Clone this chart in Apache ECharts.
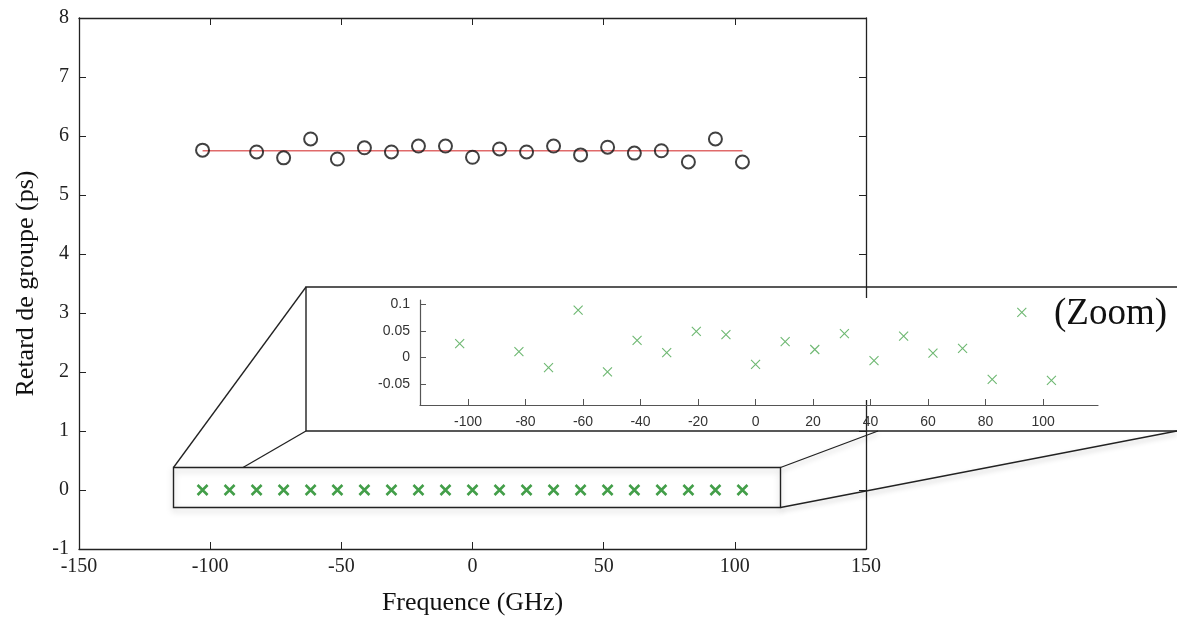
<!DOCTYPE html>
<html>
<head>
<meta charset="utf-8">
<script src="https://cdn.jsdelivr.net/npm/echarts@6/dist/echarts.min.js"></script>
<style>
html,body{margin:0;padding:0;background:#fff;}
#chart{width:1177px;height:623px;}
</style>
</head>
<body>
<div id="chart"></div>
<script>
// ---- data ----
const freqMeas = [-102.9,-82.3,-72.0,-61.7,-51.5,-41.2,-30.9,-20.6,-10.3,0,10.3,20.6,30.9,41.2,51.5,61.7,72.0,82.3,92.6,102.9];
const delayMeas = [5.76,5.73,5.63,5.95,5.61,5.80,5.73,5.83,5.83,5.64,5.78,5.73,5.83,5.68,5.81,5.71,5.75,5.56,5.95,5.56];
const fitFreq = [-102.9, 102.9];
const fitDelay = [5.75, 5.75];
const freqResid = [-102.9,-92.6,-82.3,-72.0,-61.7,-51.5,-41.2,-30.9,-20.6,-10.3,0,10.3,20.6,30.9,41.2,51.5,61.7,72.0,82.3,92.6,102.9];
const residMain = [0,0,0,0,0,0,0,0,0,0,0,0,0,0,0,0,0,0,0,0,0];
const residZoom = [0.026,0.011,-0.019,0.089,-0.027,0.032,0.009,0.049,0.043,-0.013,0.030,0.015,0.045,-0.006,0.040,0.008,0.017,-0.041,0.085,-0.043];
const zoomXTicks = [-100,-80,-60,-40,-20,0,20,40,60,80,100];
const zoomYTicks = [-0.05,0,0.05,0.1];
const xTitle = 'Frequence (GHz)';
const yTitle = 'Retard de groupe (ps)';
const zoomText = '(Zoom)';

// ---- chart ----
const chart = echarts.init(document.getElementById('chart'), null, {renderer:'canvas'});
const serif = 'Liberation Serif';
const sans = 'Liberation Sans';
const X_MARK = 'path://M0,0L10,10M10,0L0,10';

const mainAxisCommon = {
  axisLine:{show:true, onZero:false, lineStyle:{color:'#222', width:1.3}},
  axisTick:{show:true, inside:true, length:7, lineStyle:{color:'#222'}},
  splitLine:{show:false}
};

const option = {
  animation:false,
  backgroundColor:'#fff',
  grid:[
    {left:79, right:311, top:18, bottom:74},
    {left:420, right:79, top:300, bottom:218, z:30}
  ],
  xAxis:[
    Object.assign({type:'value', gridIndex:0, position:'bottom', min:-150, max:150, interval:50,
      name:xTitle, nameLocation:'middle', nameGap:41,
      nameTextStyle:{fontFamily:serif, fontSize:26, color:'#111'},
      axisLabel:{fontFamily:serif, fontSize:20, color:'#222', margin:8}}, mainAxisCommon),
    Object.assign({type:'value', gridIndex:0, position:'top', min:-150, max:150, interval:50,
      axisLabel:{show:false}}, mainAxisCommon),
    {type:'value', gridIndex:1, position:'bottom', min:-116.7, max:119.1, z:30,
      axisLine:{show:true, onZero:false, lineStyle:{color:'#555', width:1.2}},
      axisTick:{show:true, inside:true, length:6, customValues:zoomXTicks, lineStyle:{color:'#555'}},
      axisLabel:{fontFamily:sans, fontSize:14, color:'#333', margin:10, customValues:zoomXTicks},
      splitLine:{show:false}}
  ],
  yAxis:[
    Object.assign({type:'value', gridIndex:0, position:'left', min:-1, max:8, interval:1,
      name:yTitle, nameLocation:'middle', nameGap:40, nameRotate:90,
      nameTextStyle:{fontFamily:serif, fontSize:26, color:'#111'},
      axisLabel:{fontFamily:serif, fontSize:20, color:'#222', margin:10}}, mainAxisCommon),
    Object.assign({type:'value', gridIndex:0, position:'right', min:-1, max:8, interval:1,
      axisLabel:{show:false}}, mainAxisCommon),
    {type:'value', gridIndex:1, position:'left', min:-0.0894, max:0.1081, z:30,
      axisLine:{show:true, onZero:false, lineStyle:{color:'#555', width:1.2}},
      axisTick:{show:true, inside:true, length:6, customValues:zoomYTicks, lineStyle:{color:'#555'}},
      axisLabel:{fontFamily:sans, fontSize:14, color:'#333', margin:10, customValues:zoomYTicks},
      splitLine:{show:false}}
  ],
  series:[
    {type:'line', xAxisIndex:0, yAxisIndex:0, data:fitFreq.map((f,i)=>[f,fitDelay[i]]),
      showSymbol:false, lineStyle:{color:'#e06a6a', width:1.6}, z:2},
    {type:'scatter', xAxisIndex:0, yAxisIndex:0, data:freqMeas.map((f,i)=>[f,delayMeas[i]]),
      symbol:'circle', symbolSize:13,
      itemStyle:{color:'rgba(255,255,255,0)', borderColor:'#111', borderWidth:2}, z:3},
    {type:'scatter', xAxisIndex:0, yAxisIndex:0, data:freqResid.map((f,i)=>[f,residMain[i]]),
      symbol:X_MARK, symbolSize:10,
      itemStyle:{color:'rgba(0,0,0,0)', borderColor:'#14861c', borderWidth:2.6}, z:12},
    {type:'scatter', xAxisIndex:2, yAxisIndex:2, data:freqMeas.map((f,i)=>[f,residZoom[i]]),
      symbol:X_MARK, symbolSize:9,
      itemStyle:{color:'rgba(0,0,0,0)', borderColor:'#4aa64f', borderWidth:1.1}, z:31}
  ],
  graphic:[
    {type:'rect', silent:true, z:20, shape:{x:306, y:298, width:880, height:102}, style:{fill:'#fff'}},
    {type:'polyline', silent:true, z:21, shape:{points:[[1190,287],[306,287],[306,431],[1190,431]]},
      style:{stroke:'#222', lineWidth:1.4, fill:null}},
    {type:'rect', silent:true, z:11, shape:{x:173.5, y:467.5, width:607, height:40},
      style:{fill:null, stroke:'#222', lineWidth:1.4, shadowBlur:6, shadowColor:'rgba(0,0,0,0.25)', shadowOffsetY:3}},
    {type:'line', silent:true, z:21, shape:{x1:173.5, y1:467.5, x2:306, y2:287}, style:{stroke:'#222', lineWidth:1.3}},
    {type:'line', silent:true, z:21, shape:{x1:243, y1:467.5, x2:306, y2:431}, style:{stroke:'#222', lineWidth:1.3}},
    {type:'line', silent:true, z:21, shape:{x1:780.5, y1:467.5, x2:878, y2:431}, style:{stroke:'#222', lineWidth:1.3,
      shadowBlur:5, shadowColor:'rgba(0,0,0,0.25)', shadowOffsetY:3}},
    {type:'line', silent:true, z:21, shape:{x1:780.5, y1:507.5, x2:1177, y2:431}, style:{stroke:'#222', lineWidth:1.3,
      shadowBlur:5, shadowColor:'rgba(0,0,0,0.25)', shadowOffsetY:3}},
    {type:'text', silent:true, z:32, left:1054, top:296,
      style:{text:zoomText, font:'37px "Liberation Serif"', fill:'#111'}}
  ]
};
chart.setOption(option);
</script>
</body>
</html>
